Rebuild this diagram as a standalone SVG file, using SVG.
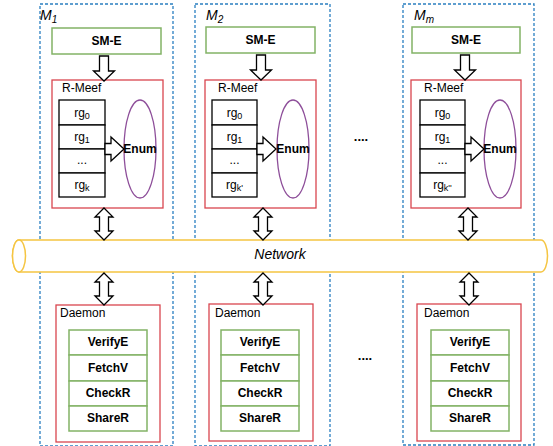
<svg xmlns="http://www.w3.org/2000/svg" width="553" height="446" viewBox="0 0 553 446">
<defs>
<style>
text{font-family:"Liberation Sans",Arial,sans-serif;fill:#000}
.m{fill:none;stroke:#2a7fc0;stroke-width:1.3;stroke-dasharray:3,2}
.ml{font-size:14px;font-style:italic}
.g{fill:#fff;stroke:#82b366;stroke-width:1.5}
.r{fill:#fff;stroke:#d9454f;stroke-width:1.3}
.s{fill:#fff;stroke:#000;stroke-width:1.3}
.e{fill:none;stroke:#8e4f9a;stroke-width:1.3}
.b{font-size:12px;font-weight:bold;text-anchor:middle}
.t{font-size:12px;text-anchor:middle}
.sub{font-size:9px}
.lab{font-size:12px}
.ar{fill:#fff;stroke:#000;stroke-width:1.3}
.net{fill:#fff;stroke:#f5c542;stroke-width:1.5}
</style>
<path id="dn" d="M-4.5,0 H4.5 V15 H10.5 L0,25 L-10.5,15 H-4.5 Z"/>
<path id="rt" d="M0,-5.5 H6 V-12 L19,0 L6,12 V5.5 H0 Z"/>
<path id="dbl" d="M0,0 L9,9 H4.5 V23 H9 L0,32 L-9,23 H-4.5 V9 H-9 Z"/>
</defs>

<g id="M1">
<rect class="m" x="40" y="4" width="133" height="442"/>
<text class="ml" x="40" y="20">M<tspan font-size="10" dy="3">1</tspan></text>
</g>
<g id="M2">
<rect class="m" x="195" y="4" width="135" height="442"/>
<text class="ml" x="206" y="20">M<tspan font-size="10" dy="3">2</tspan></text>
</g>
<g id="Mm">
<rect class="m" x="403" y="4" width="131" height="441"/>
<text class="ml" x="414" y="20">M<tspan font-size="10" dy="3">m</tspan></text>
</g>

<g id="network">
<path class="net" d="M19,240 H541 A6.5,16 0 0 1 541,272 H19 A6.5,16 0 0 1 19,240 Z"/>
<ellipse class="net" cx="19" cy="256" rx="6.5" ry="16"/>
<text x="280" y="259" font-size="14" font-style="italic" text-anchor="middle">Network</text>
</g>

<g id="sme1"><rect class="g" x="52" y="28" width="109" height="26"/><text class="b" x="106.5" y="45">SM-E</text></g>
<g id="sme2"><rect class="g" x="206" y="27" width="109" height="26"/><text class="b" x="260.5" y="44">SM-E</text></g>
<g id="smem"><rect class="g" x="412" y="27" width="108" height="26"/><text class="b" x="466" y="44">SM-E</text></g>

<g id="rmeef1">
<rect class="r" x="52" y="80" width="111" height="128"/>
<text class="lab" x="62" y="92">R-Meef</text>
<rect class="s" x="59" y="100" width="46" height="25"/><text class="t" x="82" y="117">rg<tspan class="sub" dy="2">0</tspan></text>
<rect class="s" x="59" y="125" width="46" height="24"/><text class="t" x="82" y="141">rg<tspan class="sub" dy="2">1</tspan></text>
<rect class="s" x="59" y="149" width="46" height="24"/><text class="t" x="82" y="164">...</text>
<rect class="s" x="59" y="173" width="46" height="24"/><text class="t" x="82" y="189">rg<tspan class="sub" dy="2">k</tspan></text>
<ellipse class="e" cx="140" cy="149" rx="16" ry="49"/>
<text class="b" x="140" y="153">Enum</text>
</g>
<g id="rmeef2">
<rect class="r" x="205" y="80" width="111" height="128"/>
<text class="lab" x="218" y="92">R-Meef</text>
<rect class="s" x="212" y="100" width="45" height="25"/><text class="t" x="234.5" y="117">rg<tspan class="sub" dy="2">0</tspan></text>
<rect class="s" x="212" y="125" width="45" height="24"/><text class="t" x="234.5" y="141">rg<tspan class="sub" dy="2">1</tspan></text>
<rect class="s" x="212" y="149" width="45" height="24"/><text class="t" x="234.5" y="164">...</text>
<rect class="s" x="212" y="173" width="45" height="24"/><text class="t" x="234.5" y="189">rg<tspan class="sub" dy="2">k'</tspan></text>
<ellipse class="e" cx="293" cy="149" rx="16" ry="49"/>
<text class="b" x="293" y="153">Enum</text>
</g>
<g id="rmeefm">
<rect class="r" x="411" y="80" width="110" height="128"/>
<text class="lab" x="424" y="92">R-Meef</text>
<rect class="s" x="420" y="100" width="45" height="25"/><text class="t" x="442.5" y="117">rg<tspan class="sub" dy="2">0</tspan></text>
<rect class="s" x="420" y="125" width="45" height="24"/><text class="t" x="442.5" y="141">rg<tspan class="sub" dy="2">1</tspan></text>
<rect class="s" x="420" y="149" width="45" height="24"/><text class="t" x="442.5" y="164">...</text>
<rect class="s" x="420" y="173" width="45" height="24"/><text class="t" x="442.5" y="189">rg<tspan class="sub" dy="2">k''</tspan></text>
<ellipse class="e" cx="500" cy="149" rx="16" ry="49"/>
<text class="b" x="500" y="153">Enum</text>
</g>

<g id="daemon1">
<rect class="r" x="56" y="305" width="104" height="137"/>
<text class="lab" x="60" y="317">Daemon</text>
<rect class="g" x="69" y="330" width="78" height="25"/><text class="b" x="108" y="346">VerifyE</text>
<rect class="g" x="69" y="355" width="78" height="26"/><text class="b" x="108" y="372">FetchV</text>
<rect class="g" x="69" y="381" width="78" height="25"/><text class="b" x="108" y="397">CheckR</text>
<rect class="g" x="69" y="406" width="78" height="25"/><text class="b" x="108" y="422">ShareR</text>
</g>
<g id="daemon2">
<rect class="r" x="209" y="304" width="104" height="137"/>
<text class="lab" x="215" y="317">Daemon</text>
<rect class="g" x="221" y="330" width="78" height="25"/><text class="b" x="260" y="346">VerifyE</text>
<rect class="g" x="221" y="355" width="78" height="26"/><text class="b" x="260" y="372">FetchV</text>
<rect class="g" x="221" y="381" width="78" height="25"/><text class="b" x="260" y="397">CheckR</text>
<rect class="g" x="221" y="406" width="78" height="25"/><text class="b" x="260" y="422">ShareR</text>
</g>
<g id="daemonm">
<rect class="r" x="417" y="304" width="104" height="137"/>
<text class="lab" x="424" y="317">Daemon</text>
<rect class="g" x="431" y="330" width="78" height="25"/><text class="b" x="470" y="346">VerifyE</text>
<rect class="g" x="431" y="355" width="78" height="26"/><text class="b" x="470" y="372">FetchV</text>
<rect class="g" x="431" y="381" width="78" height="25"/><text class="b" x="470" y="397">CheckR</text>
<rect class="g" x="431" y="406" width="78" height="25"/><text class="b" x="470" y="422">ShareR</text>
</g>

<g id="dots">
<text x="361" y="141" font-size="13" font-weight="bold" text-anchor="middle">....</text>
<text x="365" y="360" font-size="13" font-weight="bold" text-anchor="middle">....</text>
</g>

<g id="connectors">
<use href="#dn" class="ar" x="104" y="56"/>
<use href="#dn" class="ar" x="261" y="55"/>
<use href="#dn" class="ar" x="465" y="55"/>
<use href="#rt" class="ar" x="105" y="149"/>
<use href="#rt" class="ar" x="257" y="149"/>
<use href="#rt" class="ar" x="465" y="149"/>
<use href="#dbl" class="ar" x="104" y="208"/>
<use href="#dbl" class="ar" x="263" y="208"/>
<use href="#dbl" class="ar" x="468" y="208"/>
<use href="#dbl" class="ar" x="104" y="273"/>
<use href="#dbl" class="ar" x="263" y="273"/>
<use href="#dbl" class="ar" x="469" y="273"/>
</g>
</svg>
